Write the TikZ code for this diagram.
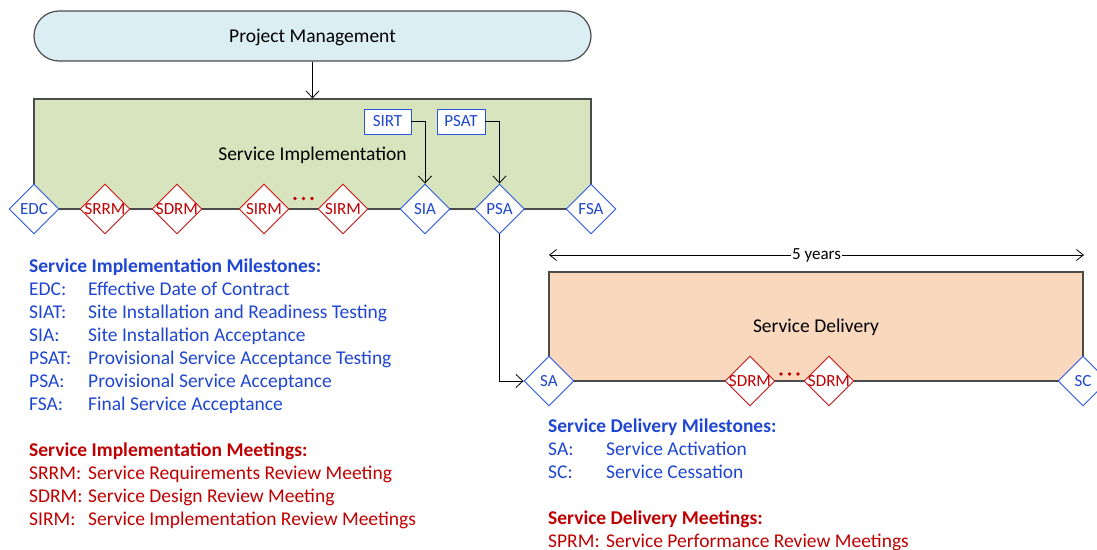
\documentclass[tikz,border=0pt]{standalone}
\usepackage{fontspec}
\setmainfont{Carlito}
\usetikzlibrary{shapes.geometric,arrows.meta}

\definecolor{pmfill}{RGB}{219,238,243}
\definecolor{sifill}{RGB}{215,228,189}
\definecolor{sdfill}{RGB}{250,216,190}
\definecolor{edgegray}{RGB}{75,75,75}
\definecolor{msblue}{RGB}{40,85,220}
\definecolor{txtblue}{RGB}{30,70,210}
\definecolor{mtred}{RGB}{200,20,20}
\definecolor{txtred}{RGB}{192,0,0}

% zero-width label so the diamond keeps its fixed size
\newcommand\ctrlabel[1]{\makebox[0pt][c]{#1}}

\tikzset{
  bigfont/.style={font=\fontsize{19.5}{23}\selectfont},
  smallfont/.style={font=\fontsize{17}{20}\selectfont},
  phase/.style={draw=edgegray, line width=1.2pt, inner sep=0pt, bigfont, text=black,
    text height=12pt, text depth=0pt},
  mstone/.style={shape=diamond, draw=msblue, fill=white, line width=0.9pt,
    minimum width=50pt, minimum height=50pt, inner sep=0pt, text=txtblue, smallfont},
  meet/.style={mstone, draw=mtred, text=txtred},
  testbox/.style={draw=msblue, fill=white, line width=0.9pt, minimum height=25pt,
    inner sep=0pt, text=txtblue, smallfont},
  link/.style={draw=black, line width=0.8pt, -{Straight Barb[length=7pt,width=13pt]}},
  legblue/.style={anchor=base west, inner sep=0pt, text=txtblue, bigfont},
  legred/.style={anchor=base west, inner sep=0pt, text=txtred, bigfont},
}

\begin{document}
\begin{tikzpicture}[x=1pt, y=-1pt]
\useasboundingbox (0,0) rectangle (1097,549);

% phases
\node[phase, fill=pmfill, rounded corners=25pt, minimum width=557pt, minimum height=50pt]
  (pm) at (312.5,36) {Project Management};
\node[phase, fill=sifill, minimum width=557pt, minimum height=110pt]
  (si) at (312.5,154) {Service Implementation};
\node[phase, fill=sdfill, minimum width=534pt, minimum height=109pt]
  (sd) at (816,326.5) {Service Delivery};

\draw[link] (pm.south) -- (si.north);

% implementation milestones and meetings
\node[mstone] (edc)   at (34,209)    {\ctrlabel{EDC}};
\node[meet]   (srrm)  at (105,209)   {\ctrlabel{SRRM}};
\node[meet]   (sdrm)  at (177,209)   {\ctrlabel{SDRM}};
\node[meet]   (sirma) at (264,209)   {\ctrlabel{SIRM}};
\node[meet]   (sirmb) at (343,209)   {\ctrlabel{SIRM}};
\node[mstone] (sia)   at (425,209)   {\ctrlabel{SIA}};
\node[mstone] (psa)   at (499.5,209) {\ctrlabel{PSA}};
\node[mstone] (fsa)   at (591,209)   {\ctrlabel{FSA}};
\foreach \dx in {-8.5,0,8.5} \fill[txtred] (303.5+\dx,198.5) circle (1.8pt);

\node[testbox, minimum width=47pt] (sirt) at (387.5,121.5) {SIRT};
\node[testbox, minimum width=48pt] (psat) at (461,121.5) {PSAT};
\draw[link] (sirt.east) -| (sia.north);
\draw[link] (psat.east) -| (psa.north);

% delivery milestones and meetings
\node[mstone] (sa)    at (549,381)  {\ctrlabel{SA}};
\node[meet]   (sdrmc) at (750,381)  {\ctrlabel{SDRM}};
\node[meet]   (sdrmd) at (829,381)  {\ctrlabel{SDRM}};
\node[mstone] (sc)    at (1083,381) {\ctrlabel{SC}};
\foreach \dx in {-8.5,0,8.5} \fill[txtred] (789.5+\dx,374) circle (1.8pt);

\draw[link] (psa.south) |- (sa.west);

% duration of the delivery phase
\coordinate (yl) at (549,255);
\coordinate (yr) at (1084,255);
\draw[line width=0.8pt, {Straight Barb[length=7pt,width=11pt]}-{Straight Barb[length=7pt,width=11pt]}]
  (yl) -- node[fill=white, inner sep=1pt, smallfont] (yrs) {5 years} (yr);

% legend: implementation
\node[legblue] (imh) at (29,272) {\textbf{Service Implementation Milestones:}};
\foreach \ab/\df [count=\i] in {EDC:/Effective Date of Contract,
    SIAT:/Site Installation and Readiness Testing,
    SIA:/Site Installation Acceptance,
    PSAT:/Provisional Service Acceptance Testing,
    PSA:/Provisional Service Acceptance,
    FSA:/Final Service Acceptance} {
  \node[legblue] (ima\i) at (29,{272+23*\i}) {\ab};
  \node[legblue] (imd\i) at (88,{272+23*\i}) {\df};
}
\node[legred] (imm) at (29,456) {\textbf{Service Implementation Meetings:}};
\foreach \ab/\df [count=\i] in {SRRM:/Service Requirements Review Meeting,
    SDRM:/Service Design Review Meeting,
    SIRM:/Service Implementation Review Meetings} {
  \node[legred] (ima\i) at (29,{456+23*\i}) {\ab};
  \node[legred] (imd\i) at (88,{456+23*\i}) {\df};
}

% legend: delivery
\node[legblue] (sdh) at (548,432) {\textbf{Service Delivery Milestones:}};
\node[legblue] (sda1) at (548,455) {SA:};
\node[legblue] (sdd1) at (606,455) {Service Activation};
\node[legblue] (sda2) at (548,478) {SC:};
\node[legblue] (sdd2) at (606,478) {Service Cessation};
\node[legred] (sdm) at (548,524) {\textbf{Service Delivery Meetings:}};
\node[legred] (sdma) at (548,547) {SPRM:};
\node[legred] (sdmd) at (606,547) {Service Performance Review Meetings};
\end{tikzpicture}
\end{document}
